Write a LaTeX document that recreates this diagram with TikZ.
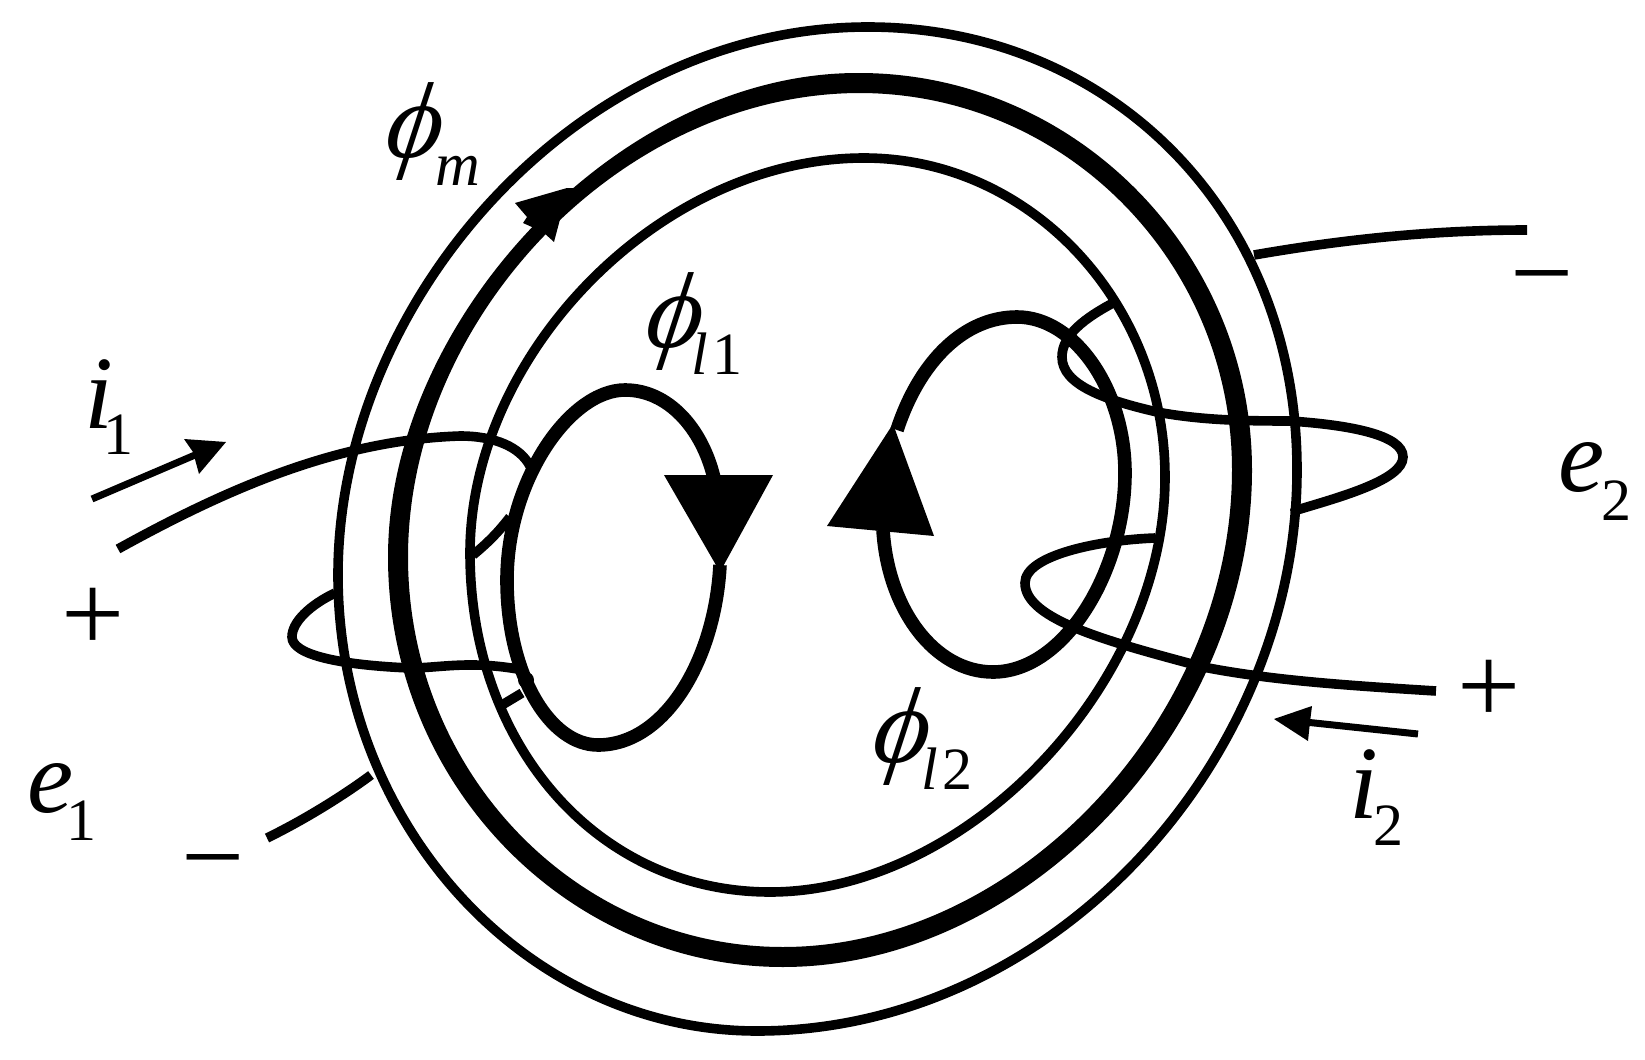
\documentclass[tikz,border=0pt]{standalone}
\usepackage{fontspec}
\setmainfont{Liberation Serif}
\newfontfamily\phifont{Liberation Serif}[UprightFont=* Italic,FakeSlant=0.15]
\tikzset{
  unitlen/.style={x=0.5pt,y=-0.5pt},
  thinring/.style={draw=black,line width=4.8pt,line join=round},
  fluxloop/.style={draw=black,line width=6.8pt,line cap=butt},
  winding/.style={draw=black,line width=4.8pt,line cap=butt},
  currentline/.style={draw=black,line width=3.5pt,line cap=butt},
  flag/.style={fill=black,draw=none},
  phisym/.style={font=\fontsize{54pt}{54pt}\phifont,inner sep=0pt},
  midsym/.style={font=\fontsize{52pt}{52pt}\selectfont\itshape,inner sep=0pt,anchor=base west},
  subsym/.style={font=\fontsize{30pt}{30pt}\selectfont,inner sep=0pt,anchor=base west},
  signsym/.style={font=\fontsize{56pt}{56pt}\selectfont,inner sep=0pt}
}
\begin{document}
\begin{tikzpicture}[unitlen]
\useasboundingbox (0,0) rectangle (1645,1060);
% outer ring
\draw[thinring] (868,27) .. controls (1108,27) and (1297,210) .. (1297,470)
  .. controls (1297,760) and (1054,1031) .. (757,1031)
  .. controls (527,1031) and (338,826) .. (338,575)
  .. controls (338,300) and (578,27) .. (868,27) -- cycle;
% middle ring, drawn as a band of varying width
\fill[flag,even odd rule]
  (859,73) .. controls (1075,73) and (1252,252) .. (1252,470)
  .. controls (1252,728) and (1027,967) .. (783,967)
  .. controls (566,967) and (388,782) .. (388,557)
  .. controls (388,320) and (619,72) .. (859,73) -- cycle
  (859,93) .. controls (1065,93) and (1232,262) .. (1232,470)
  .. controls (1232,718) and (1017,947) .. (783,947)
  .. controls (576,947) and (408,772) .. (408,557)
  .. controls (408,320) and (619,94) .. (859,93) -- cycle;
% inner ring
\draw[thinring] (864,158) .. controls (1030,158) and (1165,302) .. (1165,477)
  .. controls (1165,685) and (967,892) .. (770,892)
  .. controls (598,892) and (470,746) .. (470,553)
  .. controls (470,355) and (659,158) .. (864,158) -- cycle;
% arrowhead on the middle ring
\fill[flag] (567,188)--(515,203)--(527,217)--(523,223)--(543,232)--(554,242)--(563,208)--(585,188)--cycle;
% flux loops
\draw[fluxloop] (714,478) .. controls (702,428) and (668,390) .. (625,390)
  .. controls (570,390) and (507,480) .. (507,580)
  .. controls (507,675) and (550,745) .. (598,745)
  .. controls (665,745) and (715,660) .. (720,565);
\draw[fluxloop] (883,530) .. controls (888,610) and (935,672) .. (993,672)
  .. controls (1065,672) and (1125,570) .. (1125,473)
  .. controls (1125,390) and (1075,317) .. (1017,317)
  .. controls (965,317) and (920,360) .. (897,430);
\fill[flag] (664,475)--(773,475)--(720,572)--cycle;
\fill[flag] (893,424)--(934,536)--(827,526)--cycle;
% left windings
\draw[winding] (118,549) .. controls (230,487) and (340,440) .. (460,436)
  .. controls (495,436) and (520,447) .. (530,466);
\draw[winding] (473,555) .. controls (490,541) and (500,530) .. (510,517);
\draw[winding] (335,593) .. controls (310,605) and (292,622) .. (292,637)
  .. controls (292,655) and (340,665) .. (410,668)
  .. controls (440,668) and (470,660) .. (523,670);
\fill[flag] (526,680) circle (8);
\draw[winding] (502,705)--(522,693);
\draw[winding] (267,838) .. controls (300,822) and (340,798) .. (371,775);
% right windings
\draw[winding] (1254,255) .. controls (1340,240) and (1430,230) .. (1527,230);
\draw[winding] (1113,303) .. controls (1085,318) and (1062,335) .. (1062,357)
  .. controls (1062,385) and (1105,400) .. (1157,412)
  .. controls (1200,420) and (1240,421) .. (1290,421)
  .. controls (1350,425) and (1403,435) .. (1403,457)
  .. controls (1403,480) and (1340,497) .. (1297,510);
\fill[flag] (1295,510) circle (5);
\draw[winding] (1155,538) .. controls (1100,540) and (1025,555) .. (1025,583)
  .. controls (1025,620) and (1110,642) .. (1203,667)
  .. controls (1270,680) and (1340,685) .. (1436,691);
% current arrows
\coordinate (ia) at (92,499);
\coordinate (ib) at (195,455);
\draw[currentline] (ia)--(ib);
\fill[flag] (226,442)--(184,439)--(193,452)--(199,474)--cycle;
\coordinate (ic) at (1418,734);
\coordinate (id) at (1305,722);
\draw[currentline] (ic)--(id);
\fill[flag] (1274,719)--(1312,706)--(1310,722)--(1308,741)--cycle;
% labels
\node[phisym] (phim) at (411,132) {ϕ};
\node[subsym,font=\fontsize{31pt}{31pt}\selectfont\itshape] (phimsub) at (435,185) {m};
\node[phisym] (phil) at (671,322) {ϕ};
\node[subsym] (philsub) at (691,374) {\textit{l}\kern 2pt 1};
\node[phisym] (phir) at (898,737) {ϕ};
\node[subsym] (phirsub) at (921,789) {\textit{l}\kern 2pt 2};
\node[midsym] (eone) at (27,812) {e};
\node[subsym] (eonesub) at (66,840) {1};
\node[midsym] (etwo) at (1558,491) {e};
\node[subsym] (etwosub) at (1601,520) {2};
\node[midsym] (ione) at (84,428) {i};
\node[subsym] (ionesub) at (103,454) {1};
\node[midsym] (itwo) at (1349,818) {i};
\node[subsym] (itwosub) at (1373,845) {2};
\node[signsym] (pl) at (93,620) {+};
\node[signsym] (pr) at (1489,692) {+};
\node[signsym] (ml) at (213,875) {−};
\node[signsym] (mr) at (1542,291) {−};
\end{tikzpicture}
\end{document}
